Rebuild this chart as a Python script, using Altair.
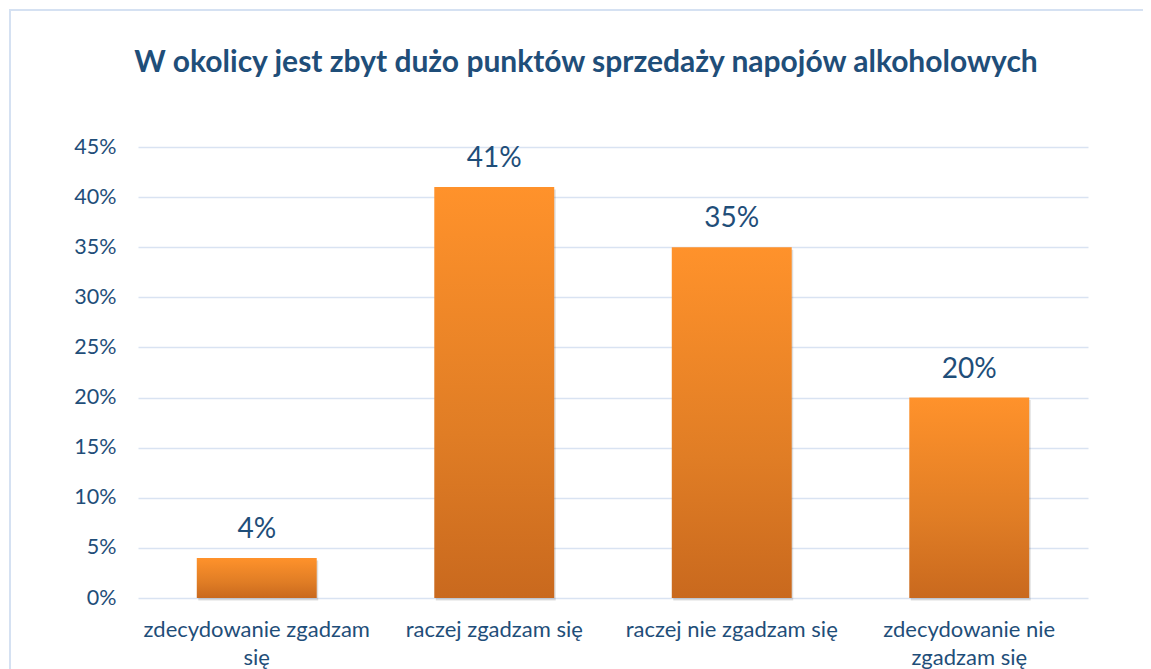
import json
import altair as alt
import pandas as pd

categories = [
    "zdecydowanie zgadzam się",
    "raczej zgadzam się",
    "raczej nie zgadzam się",
    "zdecydowanie nie zgadzam się",
]
values = [0.04, 0.41, 0.35, 0.20]
value_labels = ["4%", "41%", "35%", "20%"]
label_lines = [
    ["zdecydowanie zgadzam", "się"],
    ["raczej zgadzam się"],
    ["raczej nie zgadzam się"],
    ["zdecydowanie nie", "zgadzam się"],
]
y_ticks = [0, 0.05, 0.10, 0.15, 0.20, 0.25, 0.30, 0.35, 0.40, 0.45]
title_text = "W okolicy jest zbyt dużo punktów sprzedaży napojów alkoholowych"

TEXT = "#1F4E79"
GRID = "#D9E3F2"
FONT = "Lato"

df = pd.DataFrame({"kategoria": categories, "wartosc": values, "etykieta": value_labels})

expr = "datum.label"
for cat, lines in reversed(list(zip(categories, label_lines))):
    expr = f"datum.value === {json.dumps(cat)} ? {json.dumps(lines)} : ({expr})"

x_enc = alt.X(
    "kategoria:N",
    sort=categories,
    scale=alt.Scale(paddingInner=0.495, paddingOuter=0.2475),
    axis=alt.Axis(
        title=None,
        labelAngle=0,
        labelExpr=expr,
        labelFont=FONT,
        labelFontSize=22,
        labelColor=TEXT,
        labelLineHeight=28,
        labelPadding=21,
        labelLimit=400,
        domain=False,
        ticks=False,
        grid=False,
    ),
)
y_enc = alt.Y(
    "wartosc:Q",
    scale=alt.Scale(domain=[0, 0.45], nice=False),
    axis=alt.Axis(
        title=None,
        values=y_ticks,
        format=".0%",
        labelFont=FONT,
        labelFontSize=21.5,
        labelColor=TEXT,
        labelPadding=22,
        domain=False,
        ticks=False,
        grid=True,
        gridColor=GRID,
        gridWidth=1.6,
    ),
)

gradient = alt.Gradient(
    gradient="linear",
    stops=[
        alt.GradientStop(color="#FF922B", offset=0),
        alt.GradientStop(color="#E07D25", offset=0.6),
        alt.GradientStop(color="#C9691E", offset=1),
    ],
    x1=0, x2=0, y1=0, y2=1,
)

base = alt.Chart(df)

shadow = base.mark_bar(color="#000000", opacity=0.13, xOffset=1.5, yOffset=2.5).encode(x=x_enc, y=y_enc)
bars = base.mark_bar(color=gradient).encode(x=x_enc, y=y_enc)
labels = base.mark_text(
    font=FONT, fontSize=28, color=TEXT, baseline="alphabetic", dy=-20
).encode(x=x_enc, y=y_enc, text="etykieta:N")

frame = alt.Chart(pd.DataFrame({"f": [1]})).mark_rect(
    filled=False, stroke="#D5E1F2", strokeWidth=2
).encode(
    x=alt.value(-128), x2=alt.value(1500), y=alt.value(-137), y2=alt.value(900)
)

chart = alt.layer(frame, shadow, bars, labels).properties(
    width=950,
    height=451,
    title=alt.TitleParams(
        text=title_text,
        font=FONT,
        fontSize=30,
        fontWeight="bold",
        color=TEXT,
        anchor="middle",
        dx=-27,
        offset=-69,
    ),
    autosize=alt.AutoSizeParams(type="none"),
    padding={"left": 130, "top": 139, "right": 55, "bottom": 71},
).configure(background="white", view={"stroke": "transparent", "strokeWidth": 0})

chart.save("out.html", embed_options={"renderer": "svg", "actions": False})
